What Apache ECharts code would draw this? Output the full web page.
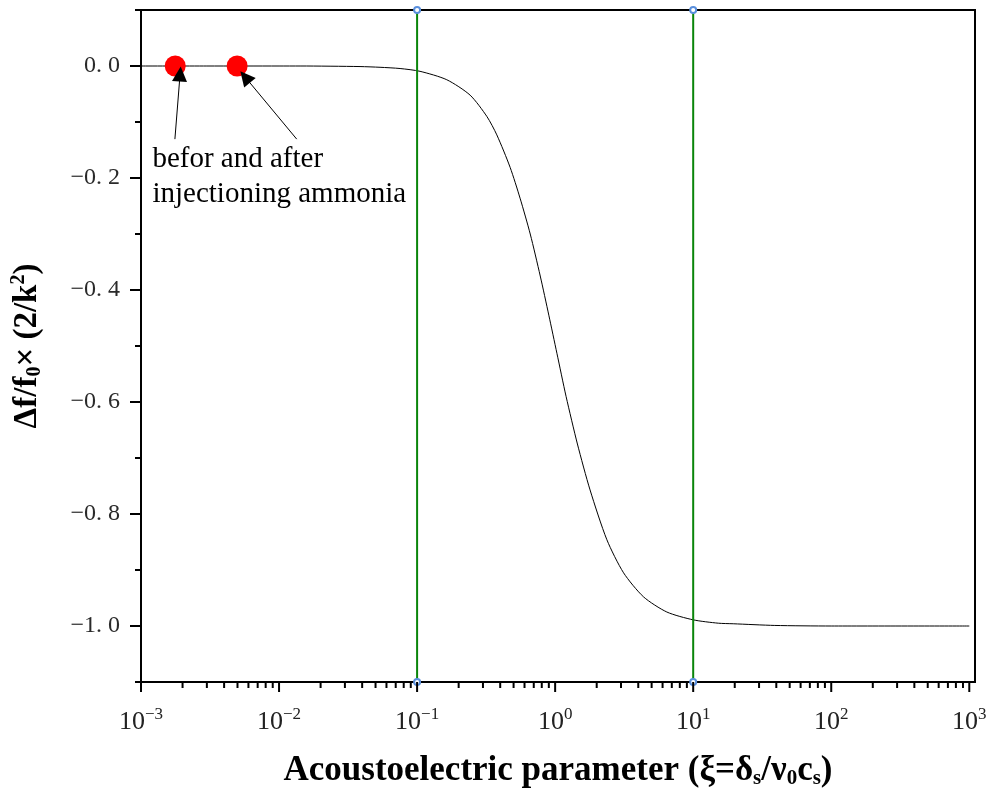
<!DOCTYPE html>
<html>
<head>
<meta charset="utf-8">
<script src="https://cdn.jsdelivr.net/npm/echarts@6/dist/echarts.min.js"></script>
<style>html,body{margin:0;padding:0;background:#fff}#c{width:990px;height:792px}</style>
</head>
<body>
<div id="c"></div>
<script>
// ---- data ----
const curveX = [0.001, 0.003, 0.01, 0.0142, 0.0386, 0.0539, 0.0753, 0.105, 0.164, 0.242, 0.320, 0.378, 0.472, 0.557, 0.66, 0.78, 0.90, 1.03, 1.20, 1.45, 1.79, 2.37, 3.13, 4.37, 6.44, 10, 15.2, 19.5, 39, 100, 1000];
const curveY = [0, 0, 0, 0, -0.001, -0.0023, -0.0045, -0.0095, -0.0245, -0.052, -0.090, -0.123, -0.181, -0.236, -0.300, -0.375, -0.445, -0.513, -0.590, -0.675, -0.757, -0.846, -0.905, -0.948, -0.975, -0.989, -0.995, -0.996, -0.999, -1.0, -1.0];
const dotX = [0.00177, 0.00497];
const dotY = [0, 0];
const boundaryX = [0.1, 10];
const xRange = [0.001, 1100];
const yRange = [-1.1, 0.1];
const xMajorExp = [-3, -2, -1, 0, 1, 2, 3];
const xMinorMult = [2, 3, 4, 5, 6, 7, 8, 9];
const yTickValues = [0.1, 0.0, -0.1, -0.2, -0.3, -0.4, -0.5, -0.6, -0.7, -0.8, -0.9, -1.0, -1.1];
const arrowTails = [[0.00176, -0.1306], [0.01343, -0.1306]];
const arrowTips = [[0.00192, -0.0143], [0.00568, -0.0197]];
const annotationAnchor = [0.00122, -0.136];
const annotationLines = ['befor and after', 'injectioning ammonia'];
const xTitle = 'Acoustoelectric parameter';
const yTitle = 'Δf/f';

// ---- build ----
const curve = curveX.map((x, i) => [x, curveY[i]]);
const dots = dotX.map((x, i) => [x, dotY[i]]);
const xTicks = [];
xMajorExp.forEach((e, i) => {
  xTicks.push([Math.pow(10, e), 1]);
  if (i < xMajorExp.length - 1) xMinorMult.forEach(m => xTicks.push([m * Math.pow(10, e), 0]));
});
const yTicks = yTickValues.map(v => [v, Math.round(v * 10) % 2 === 0 ? 1 : 0]);
const serif = 'Liberation Serif';

const chart = echarts.init(document.getElementById('c'), null, {renderer: 'canvas'});
const option = {
  animation: false,
  backgroundColor: '#fff',
  grid: {left: 141, right: 15, top: 10, bottom: 110, containLabel: false, outerBoundsMode: 'none',
    show: true, borderColor: '#000', borderWidth: 2, backgroundColor: 'transparent'},
  xAxis: {
    type: 'log', logBase: 10, min: xRange[0], max: xRange[1],
    axisLine: {show: false}, axisTick: {show: false}, splitLine: {show: false}, minorTick: {show: false},
    axisLabel: {
      margin: 24, showMaxLabel: false,
      formatter: v => {
        const e = Math.log10(v);
        if (Math.abs(e - Math.round(e)) > 1e-6) return '';
        const r = Math.round(e);
        return '{b|10}{s|' + (r < 0 ? '−' : '') + Math.abs(r) + '}';
      },
      rich: {
        b: {fontFamily: serif, fontSize: 26, color: '#222'},
        s: {fontFamily: serif, fontSize: 17, color: '#222', padding: [0, 0, 16, 0]}
      }
    },
    name: '{t|' + xTitle + ' (ξ=δ}{u|s}{t|/ν}{u|0}{t|c}{u|s}{t|)}',
    nameLocation: 'middle', nameGap: 70,
    nameTextStyle: {
      rich: {
        t: {fontFamily: serif, fontWeight: 'bold', fontSize: 35, color: '#000'},
        u: {fontFamily: serif, fontWeight: 'bold', fontSize: 21, color: '#000', padding: [16, 0, 0, 0]}
      }
    }
  },
  yAxis: {
    type: 'value', min: yRange[0], max: yRange[1], interval: 0.1,
    axisLine: {show: false}, axisTick: {show: false}, splitLine: {show: false},
    axisLabel: {
      margin: 21, fontFamily: serif, fontSize: 24, color: '#2a2a2a',
      formatter: v => {
        const k = Math.round(v * 10);
        if (k % 2 !== 0) return '';
        return (k < 0 ? '−' : '') + (Math.abs(k) / 10).toFixed(1).replace('.', '. ');
      }
    },
    name: '{t|' + yTitle + '}{u|0}{t|× (2/k}{p|2}{t|)}',
    nameLocation: 'middle', nameRotate: 90, nameGap: 96,
    nameTextStyle: {
      rich: {
        t: {fontFamily: serif, fontWeight: 'bold', fontSize: 33, color: '#000'},
        u: {fontFamily: serif, fontWeight: 'bold', fontSize: 20, color: '#000', padding: [16, 0, 0, 0]},
        p: {fontFamily: serif, fontWeight: 'bold', fontSize: 20, color: '#000', padding: [0, 0, 16, 0]}
      }
    }
  },
  series: [
    {
      type: 'line', data: curve, showSymbol: false, smooth: 0.25,
      lineStyle: {color: '#000', width: 1}, z: 3, silent: true
    },
    ...boundaryX.map(bx => ({
      type: 'line', data: [[bx, yRange[0]], [bx, yRange[1]]], clip: false,
      symbol: 'emptyCircle', symbolSize: 6, showSymbol: true,
      lineStyle: {color: '#0a850a', width: 2},
      itemStyle: {color: '#5a8fdc', borderWidth: 1.2}, z: 4, silent: true
    })),
    {
      type: 'scatter', data: dots, symbolSize: 21,
      itemStyle: {color: '#ff0000', opacity: 1}, z: 6, silent: true
    },
    {
      type: 'lines', coordinateSystem: 'cartesian2d', z: 7, silent: true,
      data: arrowTails.map((t, i) => ({coords: [t, arrowTips[i]]})),
      symbol: ['none', 'triangle'], symbolSize: [9, 15],
      lineStyle: {color: '#000', width: 1, opacity: 1}
    },
    {
      type: 'scatter', data: [annotationAnchor], symbolSize: 1, itemStyle: {color: 'rgba(0,0,0,0)'}, z: 8, silent: true,
      label: {
        show: true, position: [0, 0], align: 'left', verticalAlign: 'top', opacity: 1,
        formatter: annotationLines.join('\n'),
        fontFamily: serif, fontSize: 29, lineHeight: 35, color: '#000'
      }
    },
    {
      type: 'custom', clip: false, silent: true, z: 5, data: xTicks,
      renderItem: (params, api) => {
        const p = api.coord([api.value(0), yRange[0]]);
        const len = api.value(1) ? 10 : 6;
        return {type: 'line', shape: {x1: p[0], y1: p[1], x2: p[0], y2: p[1] + len}, style: {stroke: '#000', lineWidth: 2}};
      }
    },
    {
      type: 'custom', clip: false, silent: true, z: 5, data: yTicks.map(t => [xRange[0], t[0], t[1]]),
      renderItem: (params, api) => {
        const p = api.coord([xRange[0], api.value(1)]);
        const len = api.value(2) ? 11 : 6;
        return {type: 'line', shape: {x1: p[0], y1: p[1], x2: p[0] - len, y2: p[1]}, style: {stroke: '#000', lineWidth: 2}};
      }
    }
  ]
};
chart.setOption(option);
</script>
</body>
</html>
